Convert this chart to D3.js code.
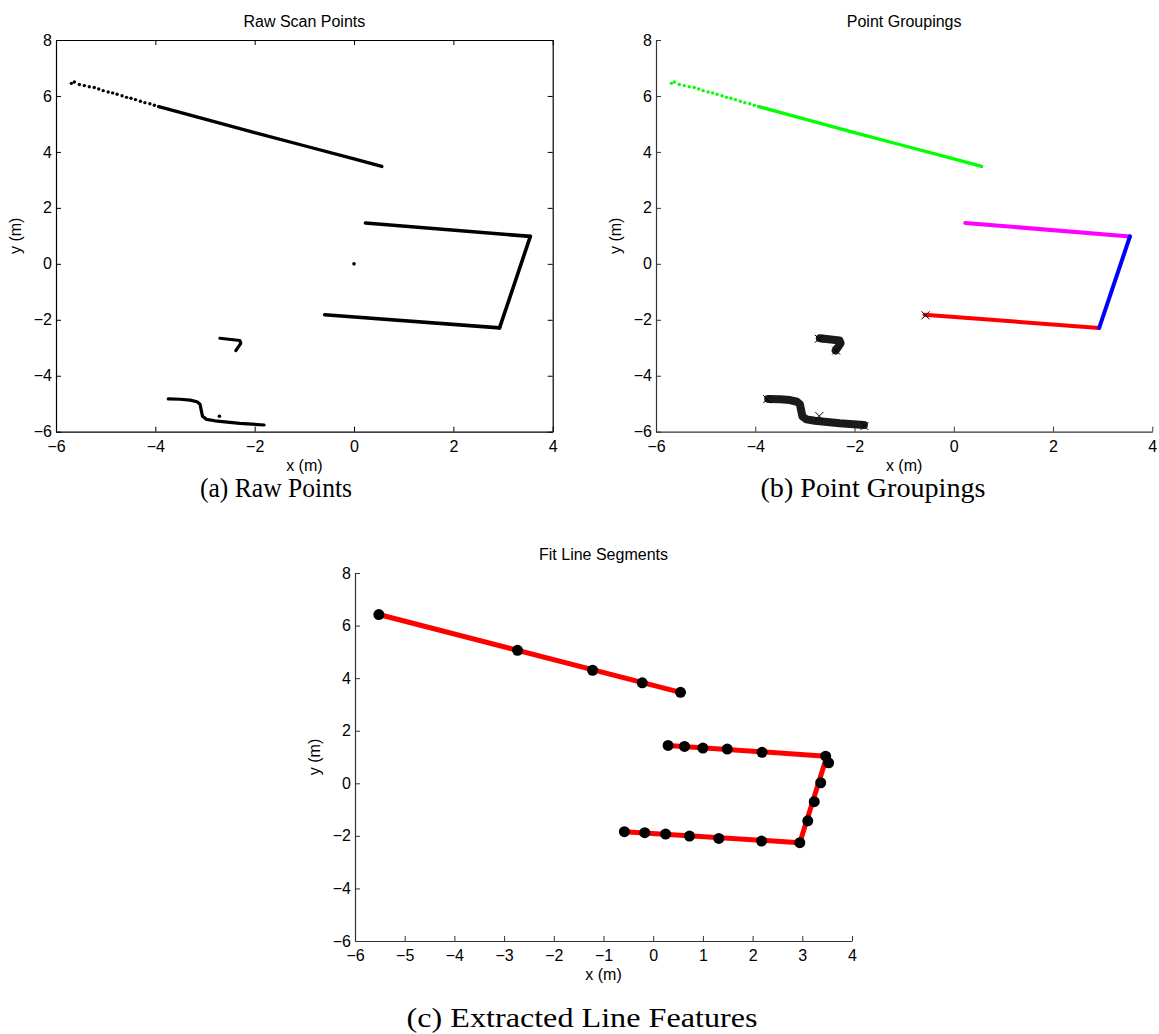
<!DOCTYPE html>
<html>
<head>
<meta charset="utf-8">
<script src="https://cdn.jsdelivr.net/npm/d3@7"></script>
<style>
  body { margin: 0; background: #fff; }
  svg { display: block; }
  .tick text { font-family: "Liberation Sans", Arial, sans-serif; font-size: 16px; fill: #000; }
</style>
</head>
<body>
<div id="chart"></div>
<script>
// ---------- scan data (metres) ----------
// far end of the top wall, where single returns are still visible
const topWallSparse = [
  [-5.69, 6.45], [-5.63, 6.50], [-5.53, 6.41], [-5.43, 6.37], [-5.33, 6.33],
  [-5.23, 6.30], [-5.14, 6.25], [-5.05, 6.19], [-4.95, 6.14], [-4.86, 6.11],
  [-4.77, 6.06], [-4.67, 6.01], [-4.58, 5.95], [-4.49, 5.92], [-4.40, 5.87],
  [-4.30, 5.81], [-4.21, 5.76], [-4.11, 5.72], [-4.02, 5.67], [-3.93, 5.62]
];
// dense part of the top wall
const topWallDense = [[-3.93, 5.62], [-3.0, 5.17], [-2.0, 4.69], [-1.0, 4.22], [0.0, 3.75], [0.56, 3.48]];
const boxUpper = [[0.23, 1.46], [3.55, 0.98]];
const boxRight = [[3.55, 0.98], [2.93, -2.29]];
const boxLower = [[2.93, -2.29], [-0.59, -1.82]];
const originPoint = [[0, 0]];
const smallObject = [[-2.70, -2.66], [-2.30, -2.74], [-2.28, -2.84], [-2.38, -3.10]];
const bottomObject = [
  [-3.74, -4.83], [-3.50, -4.84], [-3.30, -4.87], [-3.16, -4.93], [-3.10, -5.02],
  [-3.08, -5.20], [-3.05, -5.45], [-2.97, -5.56], [-2.80, -5.61], [-2.30, -5.70], [-1.81, -5.76]
];
const bottomOutlier = [[-2.71, -5.45]];
// crosses drawn over the unassigned points in the groupings panel
const groupCrosses = [[-0.57, -1.84], [-2.72, -2.68], [-2.37, -3.10], [-3.76, -4.84], [-2.71, -5.44], [-1.80, -5.80]];

// fitted line segments and their break points
const fitSegments = [
  [[-5.52, 6.42], [0.55, 3.46]],
  [[0.30, 1.44], [3.47, 1.03]],
  [[3.49, 1.00], [2.95, -2.26]],
  [[-0.58, -1.84], [2.95, -2.26]]
];
const fitPoints = [
  [-5.52, 6.42], [-2.73, 5.06], [-1.22, 4.30], [-0.22, 3.82], [0.55, 3.46],
  [0.30, 1.44], [0.63, 1.40], [1.00, 1.34], [1.49, 1.30], [2.19, 1.18], [3.47, 1.03], [3.53, 0.78],
  [3.37, 0.02], [3.24, -0.70], [3.11, -1.43], [2.95, -2.26],
  [-0.58, -1.84], [-0.17, -1.88], [0.25, -1.93], [0.73, -2.01], [1.32, -2.10], [2.18, -2.20]
];

const xTicksAB = [-6, -4, -2, 0, 2, 4];
const xTicksC = [-6, -5, -4, -3, -2, -1, 0, 1, 2, 3, 4];
const yTicks = [-6, -4, -2, 0, 2, 4, 6, 8];

// ---------- drawing ----------
const W = 1159, H = 1034;
const FONT = '"Liberation Sans", Arial, sans-serif';

const svg = d3.select("#chart").append("svg")
  .attr("width", W).attr("height", H);

function drawAxes(p) {
  const x = d3.scaleLinear().domain([-6, 4]).range([p.left, p.right]);
  const y = d3.scaleLinear().domain([-6, 8]).range([p.bottom, p.top]);
  const g = svg.append("g");
  const axisColor = p.box ? "#000" : "#333";

  g.append("g")
    .attr("transform", `translate(0,${p.bottom})`)
    .call(d3.axisBottom(x).tickValues(p.xTicks).tickSizeInner(-5).tickSizeOuter(0).tickPadding(8.5))
    .call(a => a.selectAll("line,path").attr("stroke", axisColor));
  g.append("g")
    .attr("transform", `translate(${p.left},0)`)
    .call(d3.axisLeft(y).tickValues(yTicks).tickSizeInner(-5).tickSizeOuter(0).tickPadding(4))
    .call(a => a.selectAll("line,path").attr("stroke", axisColor));

  if (p.box) {
    g.append("g")
      .attr("transform", `translate(0,${p.top})`)
      .call(d3.axisTop(x).tickValues(p.xTicks).tickSizeInner(-5).tickSizeOuter(0).tickFormat(""));
    g.append("g")
      .attr("transform", `translate(${p.right},0)`)
      .call(d3.axisRight(y).tickValues(yTicks).tickSizeInner(-5).tickSizeOuter(0).tickFormat(""));
  }
  g.selectAll(".domain").attr("stroke-width", 1.2);

  // title and axis labels
  g.append("text")
    .attr("x", (p.left + p.right) / 2).attr("y", p.top - 13)
    .attr("text-anchor", "middle")
    .style("font-family", FONT).style("font-size", "16px")
    .text(p.title);
  g.append("text")
    .attr("x", (p.left + p.right) / 2).attr("y", p.bottom + 39)
    .attr("text-anchor", "middle")
    .style("font-family", FONT).style("font-size", "16px")
    .text("x (m)");
  g.append("text")
    .attr("transform", `translate(${p.left - 35},${(p.top + p.bottom) / 2}) rotate(-90)`)
    .attr("text-anchor", "middle")
    .style("font-family", FONT).style("font-size", "16px")
    .text("y (m)");

  return { g, x, y };
}

function caption(text, cx, baseline, width) {
  svg.append("text")
    .attr("x", cx).attr("y", baseline)
    .attr("text-anchor", "middle")
    .attr("textLength", width)
    .attr("lengthAdjust", "spacingAndGlyphs")
    .style("font-family", '"Liberation Serif", "DejaVu Serif", serif')
    .style("font-size", "27px")
    .text(text);
}

function poly(ax, pts, color, width) {
  const line = d3.line().x(d => ax.x(d[0])).y(d => ax.y(d[1]));
  ax.g.append("path")
    .attr("d", line(pts))
    .attr("fill", "none")
    .attr("stroke", color)
    .attr("stroke-width", width)
    .attr("stroke-linecap", "round")
    .attr("stroke-linejoin", "round");
}

function dots(ax, pts, color, r) {
  ax.g.append("g").selectAll("circle")
    .data(pts).join("circle")
    .attr("cx", d => ax.x(d[0])).attr("cy", d => ax.y(d[1]))
    .attr("r", r).attr("fill", color);
}

function crosses(ax, pts, size) {
  ax.g.append("g").selectAll("path")
    .data(pts).join("path")
    .attr("d", d => {
      const cx = ax.x(d[0]), cy = ax.y(d[1]);
      return `M${cx - size},${cy - size}L${cx + size},${cy + size}M${cx - size},${cy + size}L${cx + size},${cy - size}`;
    })
    .attr("stroke", "#000").attr("stroke-width", 1);
}

/* ---------------- (a) raw scan points ---------------- */
const A = drawAxes({ left: 56, right: 552.7, top: 40, bottom: 431.7, box: true, xTicks: xTicksAB, title: "Raw Scan Points" });
dots(A, topWallSparse, "#000", 1.7);
poly(A, topWallDense, "#000", 3.3);
poly(A, boxUpper, "#000", 3.6);
poly(A, boxRight, "#000", 3.6);
poly(A, boxLower, "#000", 3.6);
dots(A, originPoint, "#000", 1.8);
poly(A, smallObject, "#000", 3.2);
poly(A, bottomObject, "#000", 3.2);
dots(A, bottomOutlier, "#000", 1.8);

/* ---------------- (b) point groupings ---------------- */
const B = drawAxes({ left: 656, right: 1152.3, top: 40, bottom: 431.7, box: false, xTicks: xTicksAB, title: "Point Groupings" });
dots(B, topWallSparse, "#00ff00", 1.7);
poly(B, topWallDense, "#00ff00", 3.3);
poly(B, boxUpper, "#ff00ff", 4);
poly(B, boxLower, "#ff0000", 4);
poly(B, boxRight, "#0000ff", 4);
poly(B, smallObject, "#1a1a1a", 8);
poly(B, bottomObject, "#1a1a1a", 8);
crosses(B, groupCrosses, 4);

/* ---------------- (c) fit line segments ---------------- */
const C = drawAxes({ left: 355, right: 852, top: 573, bottom: 941, box: false, xTicks: xTicksC, title: "Fit Line Segments" });
fitSegments.forEach(s => poly(C, s, "#ff0000", 5));
dots(C, fitPoints, "#000", 5.5);

/* ---------------- captions ---------------- */
caption("(a) Raw Points", 276, 497, 152);
caption("(b) Point Groupings", 873, 497, 225);
caption("(c) Extracted Line Features", 582, 1027, 351);
</script>
</body>
</html>
